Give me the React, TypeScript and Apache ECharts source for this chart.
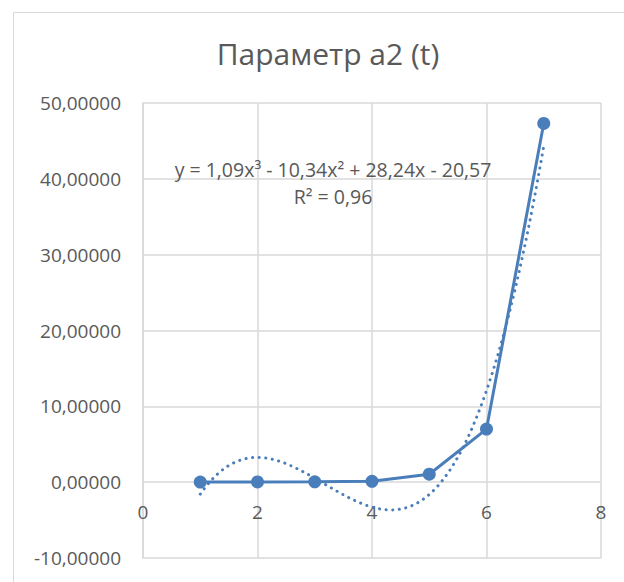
import React, { useEffect, useRef } from "react";
import * as echarts from "echarts";

// Measured points of parameter a2 over t
const tValues = [1, 2, 3, 4, 5, 6, 7];
const a2Values = [0.02, 0.03, 0.05, 0.12, 1.05, 7.0, 47.3];

// Cubic trendline coefficients (highest power first), as stated in the label
const trendCoefs = [1.09, -10.34, 28.24, -20.57];
const trendLabel = "y = 1,09x³ - 10,34x² + 28,24x - 20,57";
const r2Label = "R² = 0,96";

// Horizontal axis tick labels, placed along the y = 0 line
const xTickValues = [0, 2, 4, 6, 8];

const titleText = "Параметр a2 (t)";

const BLUE = "#4a7ebb";
const GRID = "#d9d9d9";
const TEXT = "#595959";
const FONT = "'Open Sans', 'Noto Sans', sans-serif";

function evalPoly(coefs: number[], x: number): number {
  return coefs.reduce((acc, c) => acc * x + c, 0);
}

function trendPoints(): number[][] {
  const pts: number[][] = [];
  const start = tValues[0];
  const end = tValues[tValues.length - 1];
  const steps = 120;
  for (let i = 0; i <= steps; i++) {
    const x = start + ((end - start) * i) / steps;
    pts.push([x, evalPoly(trendCoefs, x)]);
  }
  return pts;
}

export default function App() {
  const ref = useRef<HTMLDivElement>(null);

  useEffect(() => {
    if (!ref.current) return;
    const chart = echarts.init(ref.current, null, { renderer: "svg" });
    chart.setOption({
      animation: false,
      backgroundColor: "#ffffff",
      title: {
        text: titleText,
        left: 323,
        textAlign: "center",
        top: 33,
        textStyle: {
          color: TEXT,
          fontFamily: FONT,
          fontSize: 30,
          fontWeight: "normal",
        },
      },
      graphic: [
        {
          type: "rect",
          shape: { x: 13.5, y: 12.5, width: 640, height: 600 },
          style: { fill: "none", stroke: "#d9d9d9", lineWidth: 1 },
          silent: true,
        },
        {
          type: "text",
          x: 333,
          y: 169,
          style: {
            text: trendLabel,
            fill: TEXT,
            font: `19.5px ${FONT}`,
            textAlign: "center",
            textVerticalAlign: "middle",
          },
          z: 10,
        },
        {
          type: "text",
          x: 333,
          y: 196,
          style: {
            text: r2Label,
            fill: TEXT,
            font: `19.5px ${FONT}`,
            textAlign: "center",
            textVerticalAlign: "middle",
          },
          z: 10,
        },
      ],
      grid: {
        left: 143,
        top: 103,
        width: 458,
        height: 455,
        outerBoundsMode: "none",
        containLabel: false,
      },
      xAxis: {
        type: "value",
        min: 0,
        max: 8,
        interval: 2,
        axisLine: { show: false },
        axisTick: { show: false },
        axisLabel: { show: false },
        splitLine: { show: true, lineStyle: { color: GRID, width: 1.5 } },
      },
      yAxis: {
        type: "value",
        min: -10,
        max: 50,
        interval: 10,
        axisLine: { show: true, lineStyle: { color: GRID, width: 1.5 } },
        axisTick: { show: false },
        axisLabel: {
          color: TEXT,
          fontFamily: FONT,
          fontSize: 19,
          margin: 22,
          formatter: (v: number) => v.toFixed(5).replace(".", ","),
        },
        splitLine: { show: true, lineStyle: { color: GRID, width: 1.5 } },
      },
      series: [
        {
          // tick labels of the horizontal axis, hung below the zero line
          type: "custom",
          data: xTickValues.map((v) => [v, 0]),
          clip: false,
          silent: true,
          renderItem: (_params: any, api: any) => {
            const pt = api.coord([api.value(0), api.value(1)]);
            return {
              type: "text",
              x: pt[0],
              y: pt[1] + 30,
              style: {
                text: String(api.value(0)),
                fill: TEXT,
                font: `19px ${FONT}`,
                textAlign: "center",
                textVerticalAlign: "middle",
              },
            };
          },
          z: 1,
        },
        {
          type: "line",
          data: tValues.map((t, i) => [t, a2Values[i]]),
          lineStyle: { color: BLUE, width: 3 },
          itemStyle: { color: BLUE },
          symbol: "circle",
          symbolSize: 13,
          showSymbol: true,
          z: 3,
        },
        {
          type: "line",
          data: trendPoints(),
          showSymbol: false,
          symbol: "none",
          smooth: false,
          lineStyle: { color: BLUE, width: 3, type: [0.1, 6.5], cap: "round" },
          z: 4,
        },
      ],
    });
    return () => chart.dispose();
  }, []);

  return (
    <div
      ref={ref}
      style={{ position: "fixed", left: 0, top: 0, width: 624, height: 582 }}
    />
  );
}
